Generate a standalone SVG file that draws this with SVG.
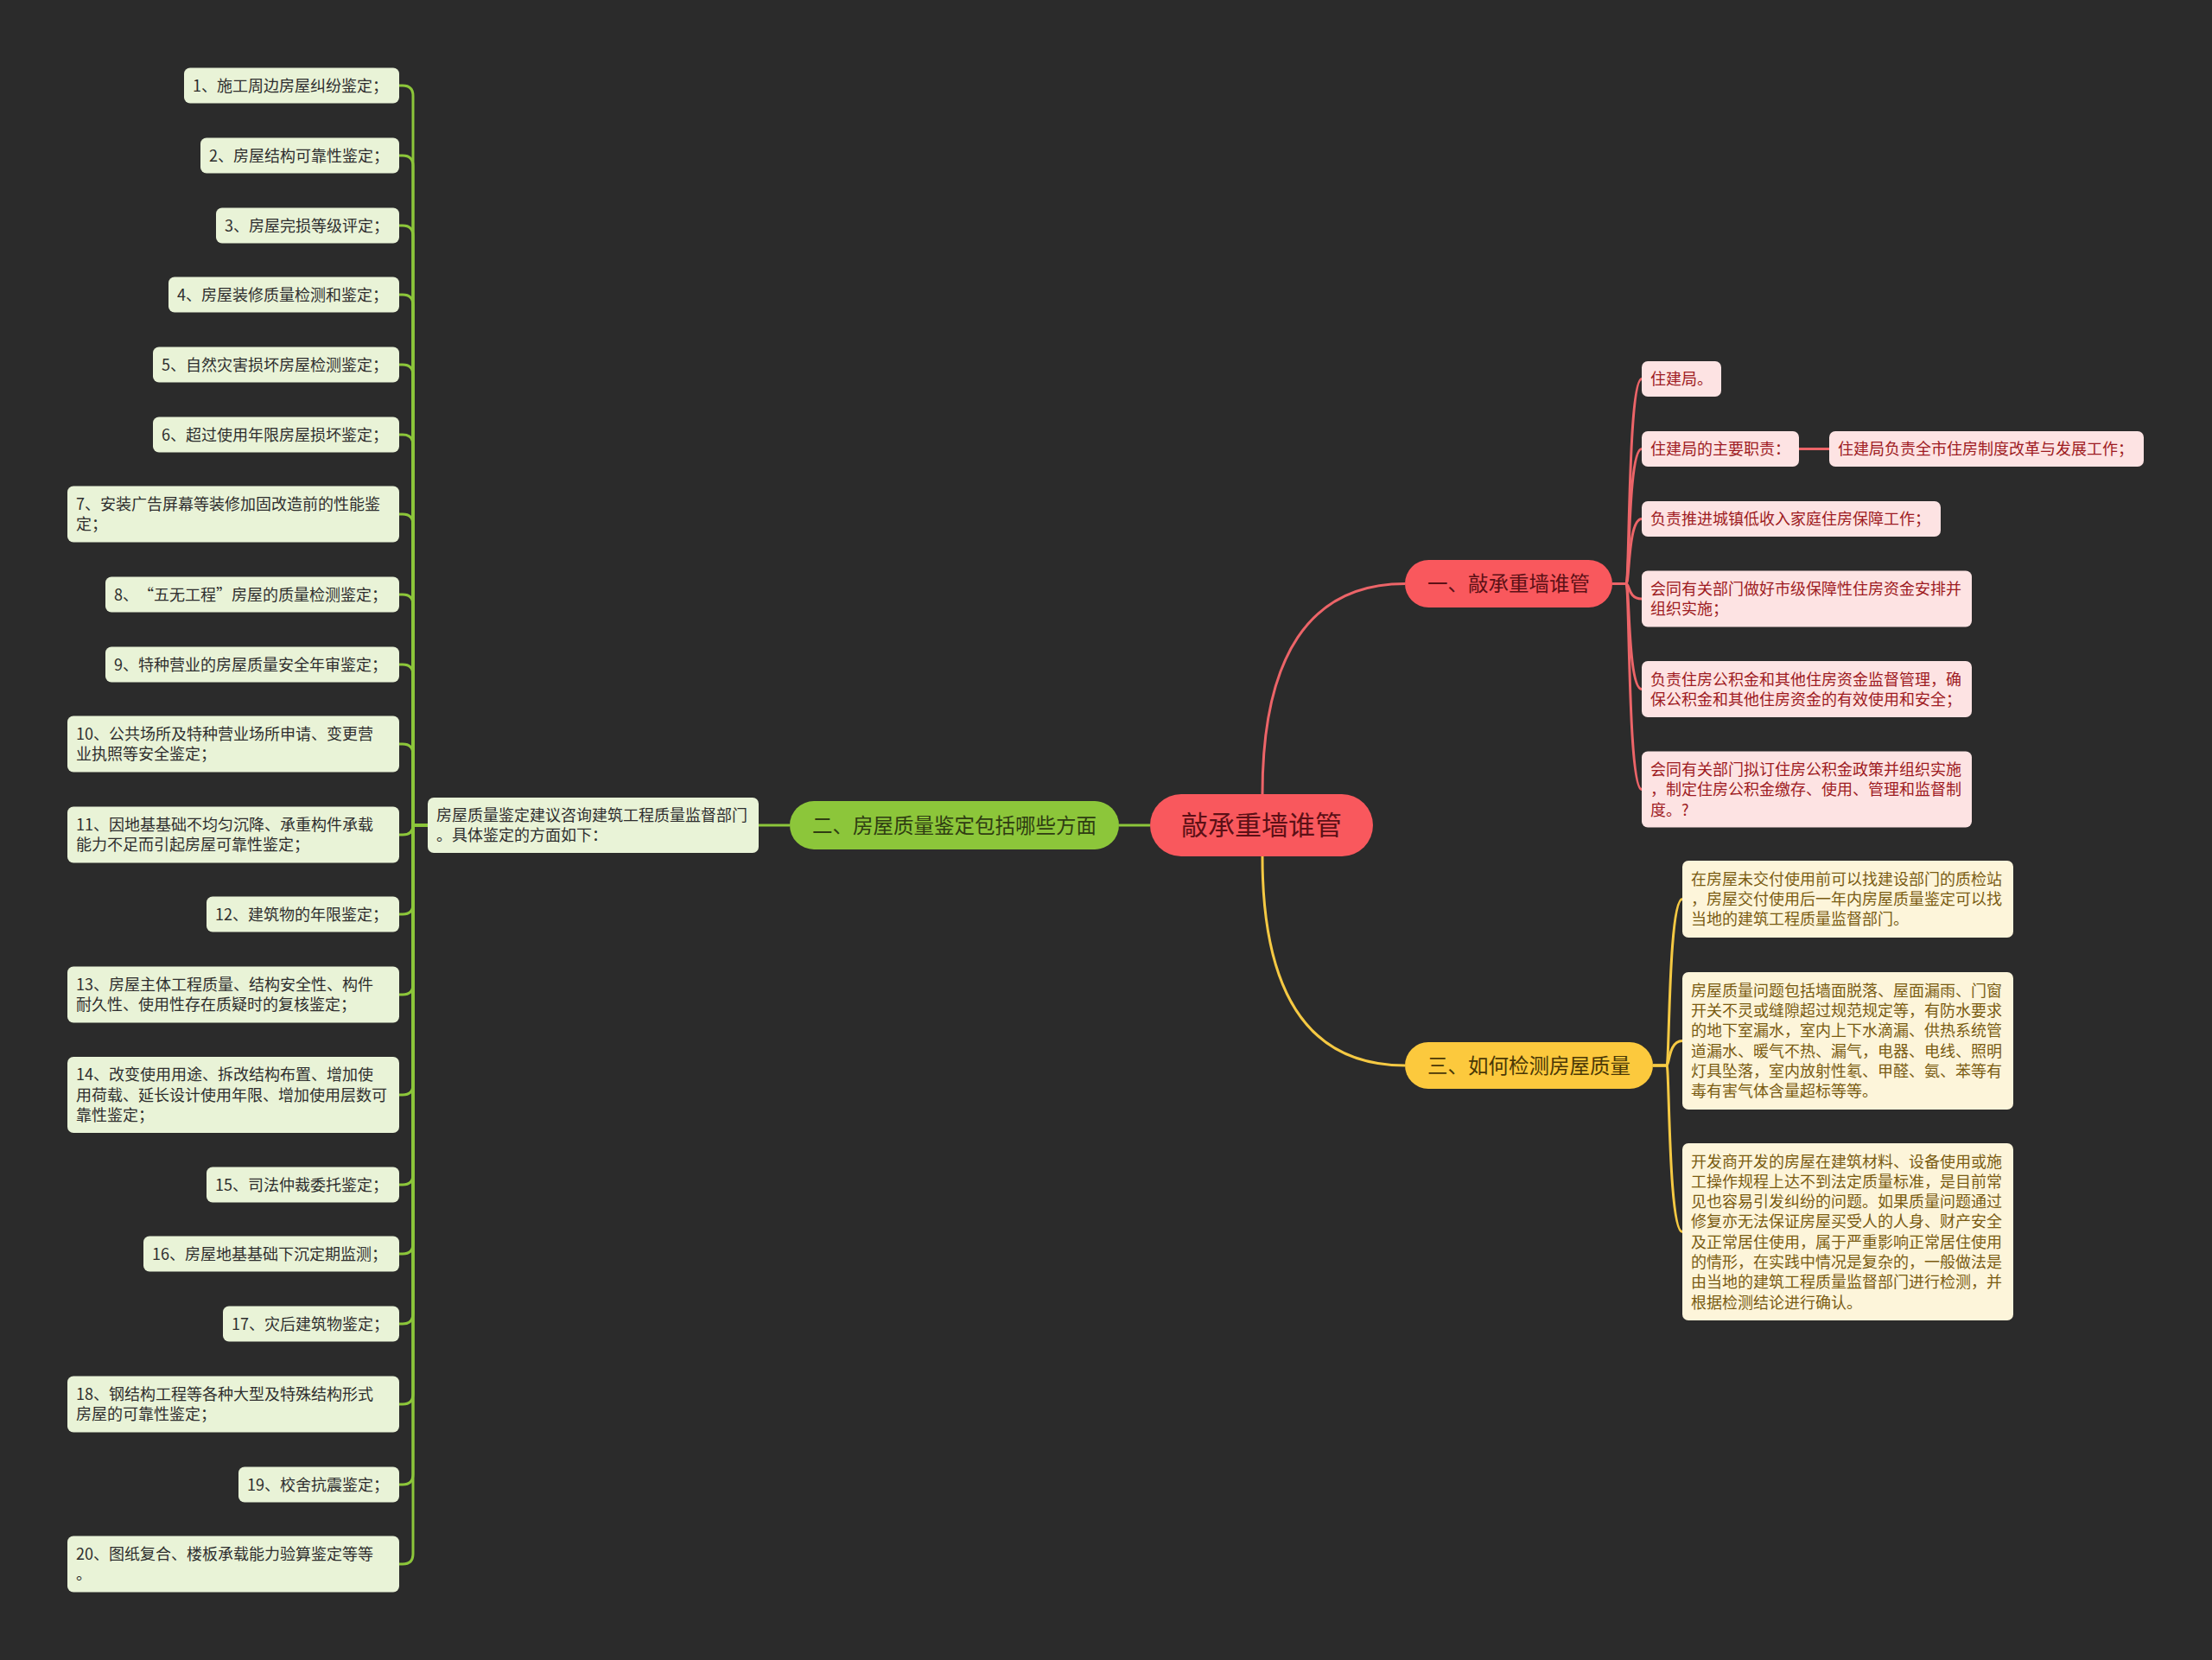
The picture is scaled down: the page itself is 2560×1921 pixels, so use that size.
<svg xmlns="http://www.w3.org/2000/svg" width="2560" height="1921" viewBox="0 0 2560 1921">
<style>
text{font-family:"Noto Sans CJK SC","Noto Sans",sans-serif}
.g{fill:#e9f3d7}
.gt{font-size:18px;fill:#2e2e2e}
.r{fill:#fde3e3}
.rt{font-size:18px;fill:#9e1b22}
.y{fill:#fdf5da}
.yt{font-size:18px;fill:#7a5c12}
.main{font-size:23.5px;text-anchor:middle}
.cg{fill:none;stroke:#8cc63a;stroke-width:3}
.cr{fill:none;stroke:#ec6468;stroke-width:3}
.cy{fill:none;stroke:#f5c943;stroke-width:3}
</style>
<rect x="0" y="0" width="2560" height="1921" fill="#2b2b2b"/>
<g id="connectors">
<path class="cr" d="M1461 919C1461 760 1515 675.5 1626 675.5" stroke-width="3.5"/>
<path class="cy" d="M1461 991C1461 1150 1515 1233 1626 1233" stroke-width="3.5"/>
<path class="cg" d="M1331 955H1295" stroke-width="4"/>
<path class="cg" d="M914 955H878" stroke-width="4"/>
<path class="cg" d="M495 955H478V111Q478 99 466 99H462"/>
<path class="cg" d="M495 955H478V192Q478 180 466 180H462"/>
<path class="cg" d="M495 955H478V273Q478 261 466 261H462"/>
<path class="cg" d="M495 955H478V353Q478 341 466 341H462"/>
<path class="cg" d="M495 955H478V434Q478 422 466 422H462"/>
<path class="cg" d="M495 955H478V515Q478 503 466 503H462"/>
<path class="cg" d="M495 955H478V607Q478 595 466 595H462"/>
<path class="cg" d="M495 955H478V700Q478 688 466 688H462"/>
<path class="cg" d="M495 955H478V781Q478 769 466 769H462"/>
<path class="cg" d="M495 955H478V873Q478 861 466 861H462"/>
<path class="cg" d="M495 955H478Q478 966 466 966H462"/>
<path class="cg" d="M495 955H478V1046Q478 1058 466 1058H462"/>
<path class="cg" d="M495 955H478V1139Q478 1151 466 1151H462"/>
<path class="cg" d="M495 955H478V1255Q478 1267 466 1267H462"/>
<path class="cg" d="M495 955H478V1359Q478 1371 466 1371H462"/>
<path class="cg" d="M495 955H478V1439Q478 1451 466 1451H462"/>
<path class="cg" d="M495 955H478V1520Q478 1532 466 1532H462"/>
<path class="cg" d="M495 955H478V1613Q478 1625 466 1625H462"/>
<path class="cg" d="M495 955H478V1706Q478 1718 466 1718H462"/>
<path class="cg" d="M495 955H478V1798Q478 1810 466 1810H462"/>
<path class="cr" d="M1866 675.5H1882C1886 675.5 1884 438.5 1900 438.5"/>
<path class="cr" d="M1866 675.5H1882C1886 675.5 1884 519.5 1900 519.5"/>
<path class="cr" d="M1866 675.5H1882C1886 675.5 1884 600.5 1900 600.5"/>
<path class="cr" d="M1866 675.5H1882C1886 675.5 1884 693 1900 693"/>
<path class="cr" d="M1866 675.5H1882C1886 675.5 1884 797.5 1900 797.5"/>
<path class="cr" d="M1866 675.5H1882C1886 675.5 1884 913.5 1900 913.5"/>
<path class="cr" d="M2082 519.5H2117" stroke-width="4"/>
<path class="cy" d="M1913 1233H1929C1932 1233 1931 1040.5 1947 1040.5"/>
<path class="cy" d="M1913 1233H1929C1932 1233 1931 1204.5 1947 1204.5"/>
<path class="cy" d="M1913 1233H1929C1932 1233 1931 1425.5 1947 1425.5"/>
</g>
<g id="root"><rect x="1331" y="919" width="258" height="72" rx="36" fill="#f9585d"/><text x="1460" y="966" font-size="31" text-anchor="middle" fill="#5c1016">敲承重墙谁管</text></g>
<g id="b1"><rect x="1626" y="648" width="240" height="55" rx="27.5" fill="#f9585d"/><text class="main" x="1746" y="684" fill="#5c1016">一、敲承重墙谁管</text></g>
<g id="b2"><rect x="914" y="927" width="381" height="56" rx="28" fill="#8cc63a"/><text class="main" x="1104.5" y="963.5" fill="#2f3d12">二、房屋质量鉴定包括哪些方面</text></g>
<g id="b3"><rect x="1626" y="1206" width="287" height="54" rx="27" fill="#fcc93d"/><text class="main" x="1769.5" y="1241.5" fill="#4a3806">三、如何检测房屋质量</text></g>
<g id="hub"><rect class="g" x="495" y="923" width="383" height="64" rx="7"/><text class="gt" x="505" y="950">房屋质量鉴定建议咨询建筑工程质量监督部门</text><text class="gt" x="505" y="973">。具体鉴定的方面如下：</text></g>
<g id="l1"><rect class="g" x="213" y="78.5" width="249" height="41" rx="7"/><text class="gt" x="223" y="105.5">1、施工周边房屋纠纷鉴定；</text></g>
<g id="l2"><rect class="g" x="232" y="159.5" width="230" height="41" rx="7"/><text class="gt" x="242" y="186.5">2、房屋结构可靠性鉴定；</text></g>
<g id="l3"><rect class="g" x="250" y="240.5" width="212" height="41" rx="7"/><text class="gt" x="260" y="267.5">3、房屋完损等级评定；</text></g>
<g id="l4"><rect class="g" x="195" y="320.5" width="267" height="41" rx="7"/><text class="gt" x="205" y="347.5">4、房屋装修质量检测和鉴定；</text></g>
<g id="l5"><rect class="g" x="177" y="401.5" width="285" height="41" rx="7"/><text class="gt" x="187" y="428.5">5、自然灾害损坏房屋检测鉴定；</text></g>
<g id="l6"><rect class="g" x="177" y="482.5" width="285" height="41" rx="7"/><text class="gt" x="187" y="509.5">6、超过使用年限房屋损坏鉴定；</text></g>
<g id="l7"><rect class="g" x="78" y="562.5" width="384" height="65" rx="7"/><text class="gt" x="88" y="590">7、安装广告屏幕等装修加固改造前的性能鉴</text><text class="gt" x="88" y="613">定；</text></g>
<g id="l8"><rect class="g" x="122" y="667.5" width="340" height="41" rx="7"/><text class="gt" x="132" y="694.5">8、<tspan dx="9">“</tspan>五无工程”房屋的质量检测鉴定；</text></g>
<g id="l9"><rect class="g" x="122" y="748.5" width="340" height="41" rx="7"/><text class="gt" x="132" y="775.5">9、特种营业的房屋质量安全年审鉴定；</text></g>
<g id="l10"><rect class="g" x="78" y="828.5" width="384" height="65" rx="7"/><text class="gt" x="88" y="856">10、公共场所及特种营业场所申请、变更营</text><text class="gt" x="88" y="879">业执照等安全鉴定；</text></g>
<g id="l11"><rect class="g" x="78" y="933.5" width="384" height="65" rx="7"/><text class="gt" x="88" y="961">11、因地基基础不均匀沉降、承重构件承载</text><text class="gt" x="88" y="984">能力不足而引起房屋可靠性鉴定；</text></g>
<g id="l12"><rect class="g" x="239" y="1037.5" width="223" height="41" rx="7"/><text class="gt" x="249" y="1064.5">12、建筑物的年限鉴定；</text></g>
<g id="l13"><rect class="g" x="78" y="1118.5" width="384" height="65" rx="7"/><text class="gt" x="88" y="1146">13、房屋主体工程质量、结构安全性、构件</text><text class="gt" x="88" y="1169">耐久性、使用性存在质疑时的复核鉴定；</text></g>
<g id="l14"><rect class="g" x="78" y="1223" width="384" height="88" rx="7"/><text class="gt" x="88" y="1250">14、改变使用用途、拆改结构布置、增加使</text><text class="gt" x="88" y="1273.5">用荷载、延长设计使用年限、增加使用层数可</text><text class="gt" x="88" y="1297">靠性鉴定；</text></g>
<g id="l15"><rect class="g" x="239" y="1350.5" width="223" height="41" rx="7"/><text class="gt" x="249" y="1377.5">15、司法仲裁委托鉴定；</text></g>
<g id="l16"><rect class="g" x="166" y="1430.5" width="296" height="41" rx="7"/><text class="gt" x="176" y="1457.5">16、房屋地基基础下沉定期监测；</text></g>
<g id="l17"><rect class="g" x="258" y="1511.5" width="204" height="41" rx="7"/><text class="gt" x="268" y="1538.5">17、灾后建筑物鉴定；</text></g>
<g id="l18"><rect class="g" x="78" y="1592.5" width="384" height="65" rx="7"/><text class="gt" x="88" y="1620">18、钢结构工程等各种大型及特殊结构形式</text><text class="gt" x="88" y="1643">房屋的可靠性鉴定；</text></g>
<g id="l19"><rect class="g" x="276" y="1697.5" width="186" height="41" rx="7"/><text class="gt" x="286" y="1724.5">19、校舍抗震鉴定；</text></g>
<g id="l20"><rect class="g" x="78" y="1777.5" width="384" height="65" rx="7"/><text class="gt" x="88" y="1805">20、图纸复合、楼板承载能力验算鉴定等等</text><text class="gt" x="88" y="1828">。</text></g>
<g id="r1"><rect class="r" x="1900" y="418" width="92" height="41" rx="7"/><text class="rt" x="1910" y="445">住建局。</text></g>
<g id="r2"><rect class="r" x="1900" y="499" width="182" height="41" rx="7"/><text class="rt" x="1910" y="526">住建局的主要职责：</text></g>
<g id="r2a"><rect class="r" x="2117" y="499" width="364" height="41" rx="7"/><text class="rt" x="2127" y="526">住建局负责全市住房制度改革与发展工作；</text></g>
<g id="r3"><rect class="r" x="1900" y="580" width="346" height="41" rx="7"/><text class="rt" x="1910" y="607">负责推进城镇低收入家庭住房保障工作；</text></g>
<g id="r4"><rect class="r" x="1900" y="660.5" width="382" height="65" rx="7"/><text class="rt" x="1910" y="688">会同有关部门做好市级保障性住房资金安排并</text><text class="rt" x="1910" y="711">组织实施；</text></g>
<g id="r5"><rect class="r" x="1900" y="765" width="382" height="65" rx="7"/><text class="rt" x="1910" y="792.5">负责住房公积金和其他住房资金监督管理，确</text><text class="rt" x="1910" y="815.5">保公积金和其他住房资金的有效使用和安全；</text></g>
<g id="r6"><rect class="r" x="1900" y="869.5" width="382" height="88" rx="7"/><text class="rt" x="1910" y="897">会同有关部门拟订住房公积金政策并组织实施</text><text class="rt" x="1910" y="920">，制定住房公积金缴存、使用、管理和监督制</text><text class="rt" x="1910" y="943.5">度。?</text></g>
<g id="y1"><rect class="y" x="1947" y="996" width="383" height="89" rx="7"/><text class="yt" x="1957" y="1023.5">在房屋未交付使用前可以找建设部门的质检站</text><text class="yt" x="1957" y="1047">，房屋交付使用后一年内房屋质量鉴定可以找</text><text class="yt" x="1957" y="1070.3">当地的建筑工程质量监督部门。</text></g>
<g id="y2"><rect class="y" x="1947" y="1125" width="383" height="159" rx="7"/><text class="yt" x="1957" y="1152.8">房屋质量问题包括墙面脱落、屋面漏雨、门窗</text><text class="yt" x="1957" y="1176">开关不灵或缝隙超过规范规定等，有防水要求</text><text class="yt" x="1957" y="1199.4">的地下室漏水，室内上下水滴漏、供热系统管</text><text class="yt" x="1957" y="1222.7">道漏水、暖气不热、漏气，电器、电线、照明</text><text class="yt" x="1957" y="1246">灯具坠落，室内放射性氡、甲醛、氨、苯等有</text><text class="yt" x="1957" y="1269.3">毒有害气体含量超标等等。</text></g>
<g id="y3"><rect class="y" x="1947" y="1323" width="383" height="205" rx="7"/><text class="yt" x="1957" y="1350.5">开发商开发的房屋在建筑材料、设备使用或施</text><text class="yt" x="1957" y="1373.8">工操作规程上达不到法定质量标准，是目前常</text><text class="yt" x="1957" y="1397">见也容易引发纠纷的问题。如果质量问题通过</text><text class="yt" x="1957" y="1420.4">修复亦无法保证房屋买受人的人身、财产安全</text><text class="yt" x="1957" y="1443.7">及正常居住使用，属于严重影响正常居住使用</text><text class="yt" x="1957" y="1467">的情形，在实践中情况是复杂的，一般做法是</text><text class="yt" x="1957" y="1490.3">由当地的建筑工程质量监督部门进行检测，并</text><text class="yt" x="1957" y="1513.6">根据检测结论进行确认。</text></g>
</svg>
